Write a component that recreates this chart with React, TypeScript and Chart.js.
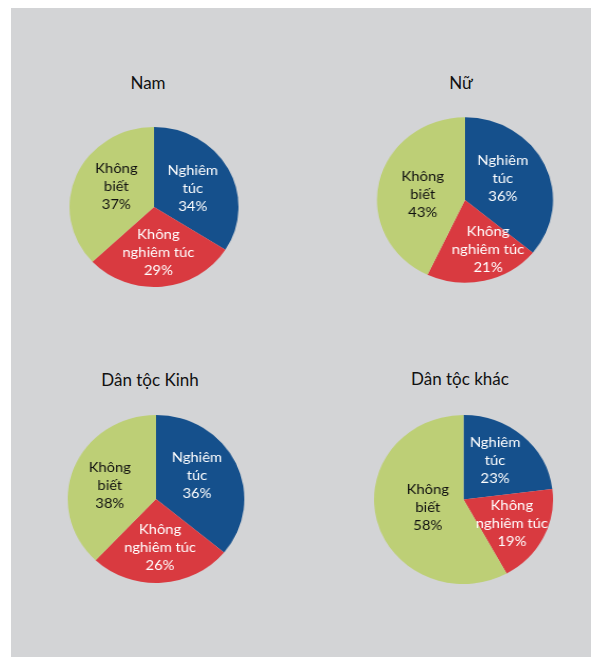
import React, { useEffect, useRef } from "react";
import { Chart, registerables } from "chart.js";

Chart.register(...registerables);

// ---- data ----
const categories = ["Nghiêm túc", "Không nghiêm túc", "Không biết"];
const chartTitles = ["Nam", "Nữ", "Dân tộc Kinh", "Dân tộc khác"];
const namValues = [34, 29, 37];
const nuValues = [36, 21, 43];
const kinhValues = [36, 26, 38];
const khacValues = [23, 19, 58];
const seriesValues = [namValues, nuValues, kinhValues, khacValues];

// ---- styles / layout ----
const sliceColors = ["#15508c", "#d93a40", "#bdcf76"];
const labelColors = ["#ffffff", "#ffffff", "#111111"];
const FONT = "Lato, 'Noto Sans', sans-serif";
// pie centre / radii and title placement (screen px)
const layouts = [
  { cx: 153.5, cy: 207, rx: 84.5, ry: 80, tx: 148, tb: 90 },
  { cx: 465.3, cy: 200, rx: 88, ry: 82.7, tx: 461, tb: 90 },
  { cx: 156, cy: 498.5, rx: 88.3, ry: 84, tx: 150, tb: 386.5 },
  { cx: 463.5, cy: 499.5, rx: 89.5, ry: 84.5, tx: 460, tb: 386 },
];
// small label nudges (screen px) relative to the arc's own anchor point
const labelNudges = [
  [[-2, 3], [0, 2], [5, -3.5]],
  [[-6, -2.5], [12.5, 5], [5, 4]],
  [[-3, -4], [1, 2.7], [-1, 3.5]],
  [[-1, -4.5], [4.5, 2.5], [12, -4]],
];
const LABEL_K = 0.55;

function wrapLabel(s: string): string[] {
  const i = s.indexOf(" ");
  return i < 0 ? [s] : [s.slice(0, i), s.slice(i + 1)];
}

const sliceLabelPlugin = {
  id: "sliceLabels",
  afterDatasetsDraw(chart: any, _args: any, opts: any) {
    const ctx = chart.ctx;
    const meta = chart.getDatasetMeta(0);
    const data = chart.data.datasets[0].data as number[];
    const labels = chart.data.labels as string[];
    const nudges: number[][] = opts.nudges || [];
    const sx: number = opts.scaleX || 1;
    ctx.save();
    ctx.font = `14px ${FONT}`;
    ctx.textAlign = "center";
    ctx.textBaseline = "middle";
    meta.data.forEach((arc: any, i: number) => {
      const p = arc.getProps(["x", "y", "startAngle", "endAngle", "outerRadius"], true);
      const mid = (p.startAngle + p.endAngle) / 2;
      const n = nudges[i] || [0, 0];
      const px = p.x + Math.cos(mid) * p.outerRadius * LABEL_K + n[0] / sx;
      const py = p.y + Math.sin(mid) * p.outerRadius * LABEL_K + n[1];
      const lines = [...wrapLabel(labels[i]), `${data[i]}%`];
      const lh = 18;
      ctx.fillStyle = labelColors[i];
      lines.forEach((ln, j) => {
        ctx.fillText(ln, px, py + (j - (lines.length - 1) / 2) * lh);
      });
    });
    ctx.restore();
  },
};

function PieChart({ values, ry, scaleX, nudges }: { values: number[]; ry: number; scaleX: number; nudges: number[][] }) {
  const ref = useRef<HTMLCanvasElement>(null);
  const size = Math.ceil(ry * 2) + 2;
  useEffect(() => {
    if (!ref.current) return;
    const chart = new Chart(ref.current, {
      type: "pie",
      data: {
        labels: categories,
        datasets: [
          {
            data: values,
            backgroundColor: sliceColors,
            borderWidth: 0,
          },
        ],
      },
      options: {
        animation: false,
        responsive: false,
        devicePixelRatio: 1,
        radius: ry,
        layout: { padding: 0 },
        plugins: {
          legend: { display: false },
          tooltip: { enabled: false },
          title: { display: false },
          sliceLabels: { nudges, scaleX },
        },
        events: [],
      } as any,
      plugins: [sliceLabelPlugin],
    });
    return () => chart.destroy();
  }, [values, ry, scaleX, nudges]);
  return <canvas ref={ref} width={size} height={size} style={{ display: "block" }} />;
}

export default function App() {
  return (
    <div
      style={{
        position: "fixed",
        left: 0,
        top: 0,
        width: 591,
        height: 657,
        overflow: "hidden",
        background: "#ffffff",
      }}
    >
      <div
        style={{
          position: "absolute",
          left: 11,
          top: 8,
          width: 580,
          height: 649,
          background: "#d3d4d6",
        }}
      />
      {layouts.map((l, i) => {
        const size = Math.ceil(l.ry * 2) + 2;
        const sx = l.rx / l.ry;
        return (
          <React.Fragment key={i}>
            <div
              style={{
                position: "absolute",
                left: l.tx - 100,
                top: l.tb - 16.6,
                width: 200,
                lineHeight: "20px",
                height: 20,
                textAlign: "center",
                fontFamily: FONT,
                fontSize: 17,
                color: "#111111",
                whiteSpace: "nowrap",
              }}
            >
              {chartTitles[i]}
            </div>
            <div
              style={{
                position: "absolute",
                left: l.cx - size / 2,
                top: l.cy - size / 2,
                width: size,
                height: size,
                transform: `scaleX(${sx})`,
                transformOrigin: "50% 50%",
              }}
            >
              <PieChart values={seriesValues[i]} ry={l.ry} scaleX={sx} nudges={labelNudges[i]} />
            </div>
          </React.Fragment>
        );
      })}
    </div>
  );
}
